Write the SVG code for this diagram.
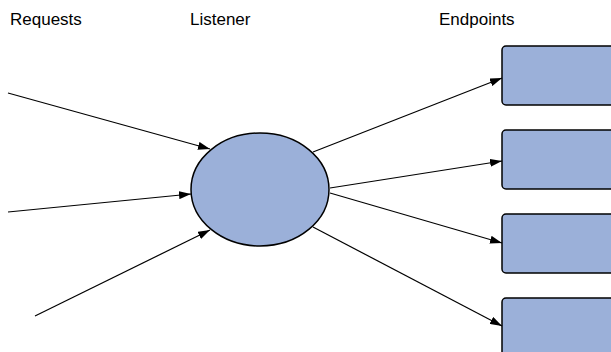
<svg xmlns="http://www.w3.org/2000/svg" width="611" height="352" viewBox="0 0 611 352">
<style>
.lbl{font-family:"Liberation Sans",Arial,sans-serif;font-size:17px;fill:#000}
.node{fill:#9bb0d9;stroke:#000;stroke-width:1.5}
.edge{stroke:#000;stroke-width:1.2;fill:none;marker-end:url(#ah)}
</style>
<defs>
<marker id="ah" viewBox="0 0 12 8" refX="12" refY="4" markerWidth="12" markerHeight="8" markerUnits="userSpaceOnUse" orient="auto">
<path d="M0,0 L12,4 L0,8 Z" fill="#000"/>
</marker>
</defs>
<rect width="611" height="352" fill="#fff"/>
<g id="labels">
<text class="lbl" x="10" y="25">Requests</text>
<text class="lbl" x="190" y="25">Listener</text>
<text class="lbl" x="439" y="25">Endpoints</text>
</g>
<g id="listener"><ellipse class="node" cx="260" cy="189.5" rx="69" ry="56.5"/></g>
<g id="endpoint1"><rect class="node" x="502" y="46" width="120" height="59" rx="4"/></g>
<g id="endpoint2"><rect class="node" x="502" y="130" width="120" height="59" rx="4"/></g>
<g id="endpoint3"><rect class="node" x="502" y="214" width="120" height="59" rx="4"/></g>
<g id="endpoint4"><rect class="node" x="502" y="298" width="120" height="59" rx="4"/></g>
<g id="connectors">
<line class="edge" x1="8" y1="93" x2="210" y2="149"/>
<line class="edge" x1="8" y1="212" x2="191" y2="194"/>
<line class="edge" x1="35" y1="316" x2="210" y2="230"/>
<line class="edge" x1="313" y1="152" x2="502" y2="78"/>
<line class="edge" x1="330" y1="188" x2="502" y2="161"/>
<line class="edge" x1="330" y1="193" x2="502" y2="243"/>
<line class="edge" x1="313" y1="227" x2="502" y2="326"/>
</g>
</svg>
